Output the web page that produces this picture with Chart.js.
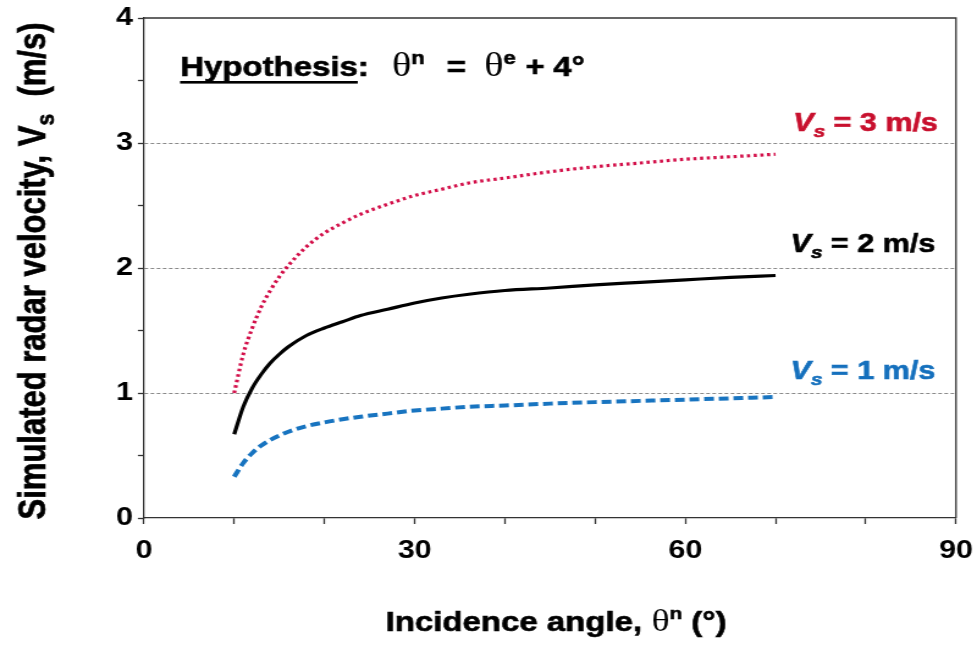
<!DOCTYPE html>
<html>
<head>
<meta charset="utf-8">
<script src="https://cdn.jsdelivr.net/npm/chart.js@4.4.0/dist/chart.umd.min.js"></script>
<style>
  html, body { margin: 0; padding: 0; background: #fff; overflow: hidden; }
  /* the figure is drawn a little narrower and widened to fill the window */
  #wrap { width: 800px; height: 647px; transform: scaleX(1.22125); transform-origin: 0 0; }
</style>
</head>
<body>
<div id="wrap"><canvas id="velChart" width="800" height="647"></canvas></div>
<script>
// incidence angle (deg) and simulated radar velocity (m/s) for each surface velocity
const angles = [10, 11, 12, 13, 14, 15, 16, 18, 20, 22, 24, 27, 30, 33, 36, 40, 45, 50, 55, 60, 65, 70];
const vs3 = [1.00, 1.31, 1.52, 1.69, 1.82, 1.93, 2.02, 2.17, 2.28, 2.36, 2.43, 2.51, 2.58, 2.63, 2.68, 2.72, 2.77, 2.81, 2.84, 2.87, 2.89, 2.91];
const vs2 = [0.67, 0.89, 1.04, 1.15, 1.24, 1.31, 1.37, 1.46, 1.52, 1.57, 1.62, 1.67, 1.72, 1.76, 1.79, 1.82, 1.84, 1.865, 1.885, 1.905, 1.925, 1.94];
const vs1 = [0.33, 0.44, 0.52, 0.58, 0.625, 0.66, 0.69, 0.735, 0.765, 0.79, 0.81, 0.835, 0.86, 0.875, 0.89, 0.90, 0.915, 0.927, 0.937, 0.947, 0.957, 0.968];

const xTickLabels = [0, 30, 60, 90];
const yTickLabels = [0, 1, 2, 3, 4];
const gridValues = [1, 2, 3];

// curve labels: text value, anchor angle, anchor velocity (baseline)
const curveLabels = [
    { value: '3', x: 88.0, y: 3.10, color: '#c8102e' },
    { value: '2', x: 87.7, y: 2.13, color: '#000000' },
    { value: '1', x: 87.7, y: 1.11, color: '#1570bd' }
];

const SANS = '"Liberation Sans", Arial, sans-serif';
const SERIF = '"Liberation Serif", "Times New Roman", serif';

function toPoints(ys) {
    return angles.map((a, i) => ({ x: a, y: ys[i] }));
}

// draws a row of text pieces (sub/superscripts, mixed fonts) one after another
function drawParts(ctx, parts, x, y, align) {
    let total = 0;
    parts.forEach(p => {
        ctx.font = p.font;
        p.w = ctx.measureText(p.text).width;
        total += p.w + (p.gap || 0);
    });
    let cx = x;
    if (align === 'right') cx = x - total;
    else if (align === 'center') cx = x - total / 2;
    parts.forEach(p => {
        const col = p.color || '#000';
        ctx.font = p.font;
        ctx.fillStyle = col;
        ctx.strokeStyle = col;
        ctx.lineWidth = 0.6;
        ctx.fillText(p.text, cx, y + (p.dy || 0));
        if (!p.thin) ctx.strokeText(p.text, cx, y + (p.dy || 0));
        if (p.underline) ctx.fillRect(cx, y + 5, p.w, 2.6);
        cx += p.w + (p.gap || 0);
    });
}

const textPlugin = {
    id: 'textPlugin',
    beforeDatasetsDraw(chart) {
        const { ctx, chartArea } = chart;
        // top and right edges of the plot frame
        ctx.save();
        ctx.strokeStyle = '#333';
        ctx.lineWidth = 1.3;
        ctx.beginPath();
        ctx.moveTo(chartArea.left, chartArea.top);
        ctx.lineTo(chartArea.right, chartArea.top);
        ctx.lineTo(chartArea.right, chartArea.bottom);
        ctx.stroke();
        ctx.restore();
    },
    afterDraw(chart) {
        const { ctx, chartArea, scales } = chart;
        ctx.save();
        ctx.textBaseline = 'alphabetic';

        // hypothesis line
        drawParts(ctx, [
            { text: 'Hypothesis', font: 'bold 27px ' + SANS, underline: true },
            { text: ':', font: 'bold 27px ' + SANS, gap: 19 },
            { text: 'θ', font: '33px ' + SERIF, thin: true },
            { text: 'n', font: 'bold 18px ' + SANS, dy: -12, gap: 18 },
            { text: '=', font: 'bold 27px ' + SANS, gap: 15 },
            { text: 'θ', font: '33px ' + SERIF, thin: true },
            { text: 'e', font: 'bold 18px ' + SANS, dy: -12, gap: 8 },
            { text: '+', font: 'bold 27px ' + SANS, gap: 7 },
            { text: '4°', font: 'bold 27px ' + SANS }
        ], chartArea.left + 29.5, chartArea.top + 58, 'left');

        // Vs labels next to each curve
        curveLabels.forEach(l => {
            drawParts(ctx, [
                { text: 'V', font: 'italic bold 25px ' + SANS, color: l.color },
                { text: 's', font: 'italic bold 17px ' + SANS, color: l.color, dy: 6 },
                { text: ' = ' + l.value + ' m/s', font: 'bold 25px ' + SANS, color: l.color }
            ], scales.x.getPixelForValue(l.x), scales.y.getPixelForValue(l.y), 'right');
        });

        // x axis title
        drawParts(ctx, [
            { text: 'Incidence angle, ', font: 'bold 27px ' + SANS },
            { text: 'θ', font: '31px ' + SERIF, thin: true },
            { text: 'n', font: 'bold 17px ' + SANS, dy: -12 },
            { text: ' (°)', font: 'bold 27px ' + SANS }
        ], (chartArea.left + chartArea.right) / 2 + 5, 631, 'center');

        // y axis title
        ctx.translate(37, 271);
        ctx.rotate(-Math.PI / 2);
        drawParts(ctx, [
            { text: 'Simulated radar velocity, V', font: 'bold 31px ' + SANS },
            { text: 's', font: 'bold 21px ' + SANS, dy: 7 },
            { text: '  (m/s)', font: 'bold 31px ' + SANS }
        ], 0, 0, 'center');
        ctx.restore();
    }
};

const ctx = document.getElementById('velChart').getContext('2d');
new Chart(ctx, {
    type: 'line',
    data: {
        datasets: [
            {
                label: 'Vs = 3 m/s',
                data: toPoints(vs3),
                borderColor: '#d3104a',
                borderWidth: 3.2,
                borderDash: [2.6, 2.9],
                pointRadius: 0,
                cubicInterpolationMode: 'monotone',
                fill: false
            },
            {
                label: 'Vs = 2 m/s',
                data: toPoints(vs2),
                borderColor: '#000000',
                borderWidth: 3.2,
                pointRadius: 0,
                cubicInterpolationMode: 'monotone',
                fill: false
            },
            {
                label: 'Vs = 1 m/s',
                data: toPoints(vs1),
                borderColor: '#1874c0',
                borderWidth: 4,
                borderDash: [8, 4],
                pointRadius: 0,
                cubicInterpolationMode: 'monotone',
                fill: false
            }
        ]
    },
    options: {
        responsive: false,
        animation: false,
        devicePixelRatio: 1,
        layout: { padding: { top: 18, right: 17.2, left: 0, bottom: 0 } },
        plugins: {
            legend: { display: false },
            tooltip: { enabled: false }
        },
        scales: {
            x: {
                type: 'linear',
                min: 0,
                max: 90,
                afterFit: scale => {
                    scale.height = 129;
                    scale.paddingLeft = 0;
                    scale.paddingRight = 0;
                },
                border: { color: '#333', width: 1.3 },
                grid: {
                    drawOnChartArea: false,
                    tickLength: 6,
                    tickColor: '#333',
                    tickWidth: 1.3
                },
                ticks: {
                    stepSize: 10,
                    autoSkip: false,
                    maxRotation: 0,
                    padding: 12,
                    color: '#000',
                    font: { family: SANS, size: 25, weight: 'bold' },
                    callback: v => xTickLabels.includes(v) ? String(v) : ''
                }
            },
            y: {
                min: 0,
                max: 4,
                afterFit: scale => {
                    scale.width = 117.9;
                    scale.paddingTop = 0;
                    scale.paddingBottom = 0;
                },
                border: { color: '#333', width: 1.3, dash: [3, 2] },
                grid: {
                    color: c => gridValues.includes(c.tick.value) ? '#8a8a8a' : 'rgba(0,0,0,0)',
                    lineWidth: 1,
                    tickLength: 5,
                    tickColor: '#333',
                    tickWidth: 1.3
                },
                ticks: {
                    stepSize: 0.5,
                    autoSkip: false,
                    padding: 4,
                    color: '#000',
                    font: { family: SANS, size: 25, weight: 'bold' },
                    callback: v => yTickLabels.includes(v) ? String(v) : ''
                }
            }
        }
    },
    plugins: [textPlugin]
});
</script>
</body>
</html>
